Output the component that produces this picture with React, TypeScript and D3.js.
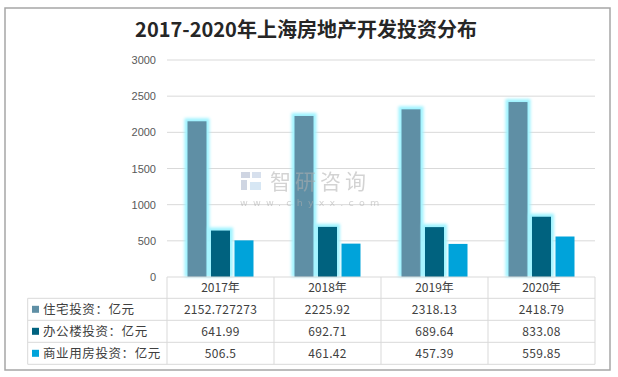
import React from "react";
import * as d3 from "d3";

const categories = ["2017年", "2018年", "2019年", "2020年"];
const seriesNames = ["住宅投资：亿元", "办公楼投资：亿元", "商业用房投资：亿元"];
const residential = [2152.727273, 2225.92, 2318.13, 2418.79];
const office = [641.99, 692.71, 689.64, 833.08];
const commercial = [506.5, 461.42, 457.39, 559.85];
const tableText = [
  ["2152.727273", "2225.92", "2318.13", "2418.79"],
  ["641.99", "692.71", "689.64", "833.08"],
  ["506.5", "461.42", "457.39", "559.85"],
];
const yTicks = [0, 500, 1000, 1500, 2000, 2500, 3000];
const colors = ["#5f8fa5", "#00627f", "#00a3da"];
const glow = [true, true, false];

export default function App() {
  const W = 618, H = 377;
  const left = 167, right = 595, top = 60, bottom = 277;
  const x = d3.scaleBand<string>().domain(categories).range([left, right]);
  const y = d3.scaleLinear().domain([0, 3000]).range([bottom, top]);
  const series = [residential, office, commercial];
  const barW = 19, gap = 4.5;
  const groupW = barW * 3 + gap * 2;
  const rowH = 22;
  const tableLeft = 27.7;
  const rows = [bottom + 21.3, bottom + 21.3 + rowH, bottom + 21.3 + rowH * 2, bottom + 21.3 + rowH * 3];
  const font = "'Noto Sans CJK SC', 'Noto Sans', sans-serif";
  return (
    <svg width={W} height={H} style={{ position: "absolute", left: 0, top: 0, background: "#fff" }}>
      <defs>
        <filter id="glow" x="-50%" y="-50%" width="200%" height="200%">
          <feGaussianBlur stdDeviation="1.6" />
        </filter>
      </defs>
      <rect x={5} y={8} width={605} height={362} fill="#fff" stroke="#a6a6a6" strokeWidth={1.5} />
      <text x={306} y={37} textAnchor="middle" fontFamily={font} fontWeight="bold" fontSize={20} fill="#262626">
        2017-2020年上海房地产开发投资分布
      </text>
      {yTicks.map((t) => (
        <g key={t}>
          {t > 0 && <line x1={left} x2={right} y1={y(t)} y2={y(t)} stroke="#d9d9d9" strokeWidth={1} />}
          <text x={156} y={y(t) + 4} textAnchor="end" fontFamily="'Liberation Sans', Arial, sans-serif" fontSize={11} fill="#595959">
            {t}
          </text>
        </g>
      ))}
      {series.map((vals, si) =>
        vals.map((v, ci) => {
          const bx = (x(categories[ci]) as number) + (x.bandwidth() - groupW) / 2 + si * (barW + gap);
          const by = y(v);
          const bh = bottom - by;
          return (
            <g key={`${si}-${ci}`}>
              {glow[si] && (
                <rect x={bx - 3} y={by - 3} width={barW + 6} height={bh + 3} fill="#9ff3ff" filter="url(#glow)" />
              )}
              <rect x={bx} y={by} width={barW} height={bh} fill={colors[si]} />
            </g>
          );
        })
      )}
      {/* watermark */}
      <g opacity={0.55}>
        <rect x={241} y={172} width={9} height={6} fill="#a8b4cc" />
        <rect x={252} y={172} width={9} height={6} fill="#b8c8e0" />
        <rect x={241} y={180} width={6} height={10} fill="#a8b4cc" />
        <rect x={250} y={182} width={11} height={8} fill="#b8d4ec" />
        <text x={270} y={189} fontFamily={font} fontSize={21} fill="#b0b0b0" letterSpacing={4}>智研咨询</text>
        <text x={240} y={206} fontFamily="'DejaVu Sans', sans-serif" fontSize={9.5} fill="#b0b0b0" letterSpacing={5.2}>www.chyxx.com</text>
      </g>
      {/* table */}
      <line x1={left} x2={right} y1={bottom} y2={bottom} stroke="#d9d9d9" />
      {rows.map((ry, i) => (
        <line key={i} x1={tableLeft} x2={right} y1={ry} y2={ry} stroke="#d9d9d9" />
      ))}
      <line x1={tableLeft} x2={tableLeft} y1={rows[0]} y2={rows[3]} stroke="#d9d9d9" />
      {categories.map((c) => (
        <line key={c} x1={x(c) as number} x2={x(c) as number} y1={bottom} y2={rows[3]} stroke="#d9d9d9" />
      ))}
      <line x1={right} x2={right} y1={bottom} y2={rows[3]} stroke="#d9d9d9" />
      {categories.map((c) => (
        <text key={c} x={(x(c) as number) + x.bandwidth() / 2} y={bottom + 15} textAnchor="middle" fontFamily={font} fontSize={12} fill="#404040">
          {c}
        </text>
      ))}
      {seriesNames.map((n, si) => (
        <g key={n}>
          <rect x={32} y={rows[si] + 7.5} width={7} height={7} fill={colors[si]} />
          <text x={43} y={rows[si] + 15.5} fontFamily={font} fontSize={12.5} fill="#404040" letterSpacing={0.6}>{n}</text>
          {tableText[si].map((t, ci) => (
            <text key={ci} x={(x(categories[ci]) as number) + x.bandwidth() / 2} y={rows[si] + 15.5} textAnchor="middle" fontFamily={font} fontSize={12} fill="#404040" letterSpacing={0.3}>
              {t}
            </text>
          ))}
        </g>
      ))}
    </svg>
  );
}
